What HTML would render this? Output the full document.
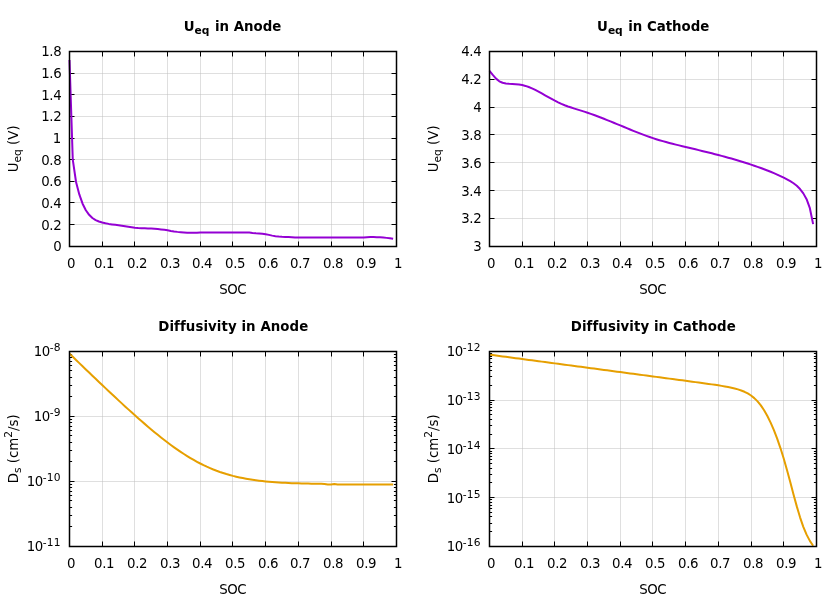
<!DOCTYPE html>
<html><head><meta charset="utf-8"><title>plots</title>
<style>html,body{margin:0;padding:0;background:#fff}svg{display:block;will-change:transform}text{font-family:"DejaVu Sans","Liberation Sans",sans-serif;fill:#000}</style>
</head><body>
<svg width="840" height="600" viewBox="0 0 840 600">
<rect width="840" height="600" fill="#fff"/>
<path d="M102.50 51.50V246.50M134.50 51.50V246.50M167.50 51.50V246.50M200.50 51.50V246.50M232.50 51.50V246.50M265.50 51.50V246.50M298.50 51.50V246.50M331.50 51.50V246.50M363.50 51.50V246.50" stroke="#c0c0c0" stroke-opacity="0.5" stroke-width="1" fill="none"/>
<path d="M69.50 224.50H396.50M69.50 202.50H396.50M69.50 181.50H396.50M69.50 159.50H396.50M69.50 138.50H396.50M69.50 116.50H396.50M69.50 94.50H396.50M69.50 73.50H396.50" stroke="#c0c0c0" stroke-opacity="0.5" stroke-width="1" fill="none"/>
<path d="M102.50 246.50v-5.0M102.50 51.50v5.0M134.50 246.50v-5.0M134.50 51.50v5.0M167.50 246.50v-5.0M167.50 51.50v5.0M200.50 246.50v-5.0M200.50 51.50v5.0M232.50 246.50v-5.0M232.50 51.50v5.0M265.50 246.50v-5.0M265.50 51.50v5.0M298.50 246.50v-5.0M298.50 51.50v5.0M331.50 246.50v-5.0M331.50 51.50v5.0M363.50 246.50v-5.0M363.50 51.50v5.0M69.50 224.50h5.0M396.50 224.50h-5.0M69.50 202.50h5.0M396.50 202.50h-5.0M69.50 181.50h5.0M396.50 181.50h-5.0M69.50 159.50h5.0M396.50 159.50h-5.0M69.50 138.50h5.0M396.50 138.50h-5.0M69.50 116.50h5.0M396.50 116.50h-5.0M69.50 94.50h5.0M396.50 94.50h-5.0M69.50 73.50h5.0M396.50 73.50h-5.0" stroke="#000" stroke-width="1.0" fill="none"/>
<path d="M69.50 60.00 L72.77 159.60 L76.04 181.99 L79.31 194.41 L82.58 203.68 L85.84 210.24 L89.11 214.84 L92.38 218.00 L95.65 220.11 L98.92 221.54 L102.19 222.57 L105.46 223.29 L108.73 223.89 L112.00 224.41 L115.27 224.86 L118.53 225.27 L121.80 225.77 L125.07 226.26 L128.34 226.76 L131.61 227.23 L134.88 227.64 L138.15 227.97 L141.42 228.16 L144.69 228.25 L147.96 228.39 L151.22 228.57 L154.49 228.81 L157.76 229.09 L161.03 229.44 L164.30 229.80 L167.57 230.24 L170.84 230.92 L174.11 231.45 L177.38 231.88 L180.65 232.21 L183.92 232.50 L187.18 232.73 L190.45 232.84 L193.72 232.87 L196.99 232.86 L200.26 232.50 L203.53 232.50 L206.80 232.50 L210.07 232.50 L213.34 232.50 L216.60 232.50 L219.87 232.50 L223.14 232.50 L226.41 232.50 L229.68 232.50 L232.95 232.50 L236.22 232.50 L239.49 232.50 L242.76 232.50 L246.03 232.50 L249.29 232.50 L252.56 232.97 L255.83 233.29 L259.10 233.53 L262.37 233.82 L265.64 234.21 L268.91 234.88 L272.18 235.63 L275.45 236.16 L278.72 236.57 L281.99 236.85 L285.25 236.96 L288.52 237.03 L291.79 237.16 L295.06 237.50 L298.33 237.50 L301.60 237.50 L304.87 237.50 L308.14 237.50 L311.41 237.50 L314.68 237.50 L317.94 237.50 L321.21 237.50 L324.48 237.50 L327.75 237.50 L331.02 237.50 L334.29 237.50 L337.56 237.50 L340.83 237.50 L344.10 237.50 L347.36 237.50 L350.63 237.50 L353.90 237.50 L357.17 237.50 L360.44 237.50 L363.71 237.50 L366.98 237.23 L370.25 237.10 L373.52 237.10 L376.79 237.16 L380.05 237.29 L383.32 237.51 L386.59 237.87 L389.86 238.28 L393.13 238.79" stroke="#9400d3" stroke-width="2.0" fill="none" stroke-linejoin="round" stroke-linecap="butt"/>
<rect x="69.50" y="51.50" width="327.00" height="195.00" stroke="#000" stroke-width="1.5" fill="none"/>
<g font-size="13.33" letter-spacing="-0.4"><text x="67.10" y="268">0</text><text x="94.10" y="268">0.1</text><text x="127.10" y="268">0.2</text><text x="160.10" y="268">0.3</text><text x="192.10" y="268">0.4</text><text x="225.10" y="268">0.5</text><text x="258.10" y="268">0.6</text><text x="290.10" y="268">0.7</text><text x="323.10" y="268">0.8</text><text x="356.10" y="268">0.9</text><text x="394.10" y="268">1</text><text x="61.25" y="251" text-anchor="end">0</text><text x="61.25" y="230" text-anchor="end">0.2</text><text x="61.25" y="208" text-anchor="end">0.4</text><text x="61.25" y="186" text-anchor="end">0.6</text><text x="61.25" y="165" text-anchor="end">0.8</text><text x="60.75" y="143" text-anchor="end">1</text><text x="61.25" y="121" text-anchor="end">1.2</text><text x="61.25" y="100" text-anchor="end">1.4</text><text x="61.25" y="78" text-anchor="end">1.6</text><text x="61.25" y="56" text-anchor="end">1.8</text></g>
<text x="232.70" y="294.20" text-anchor="middle" letter-spacing="-0.4" font-size="13.33">SOC</text>
<text x="232.50" y="31" text-anchor="middle" letter-spacing="0" font-size="13.33" font-weight="bold">U<tspan font-size="10.66" dy="3">eq</tspan><tspan dy="-3" dx="0.9"> in Anode</tspan></text>
<text transform="translate(18.30 148.85) rotate(-90)" text-anchor="middle" font-size="13.33">U<tspan font-size="10.66" dy="3">eq</tspan><tspan dy="-3" dx="0"> (V)</tspan></text>
<path d="M522.50 51.50V246.50M554.50 51.50V246.50M587.50 51.50V246.50M620.50 51.50V246.50M652.50 51.50V246.50M685.50 51.50V246.50M718.50 51.50V246.50M751.50 51.50V246.50M783.50 51.50V246.50" stroke="#c0c0c0" stroke-opacity="0.5" stroke-width="1" fill="none"/>
<path d="M489.50 218.50H816.50M489.50 190.50H816.50M489.50 162.50H816.50M489.50 134.50H816.50M489.50 107.50H816.50M489.50 79.50H816.50" stroke="#c0c0c0" stroke-opacity="0.5" stroke-width="1" fill="none"/>
<path d="M522.50 246.50v-5.0M522.50 51.50v5.0M554.50 246.50v-5.0M554.50 51.50v5.0M587.50 246.50v-5.0M587.50 51.50v5.0M620.50 246.50v-5.0M620.50 51.50v5.0M652.50 246.50v-5.0M652.50 51.50v5.0M685.50 246.50v-5.0M685.50 51.50v5.0M718.50 246.50v-5.0M718.50 51.50v5.0M751.50 246.50v-5.0M751.50 51.50v5.0M783.50 246.50v-5.0M783.50 51.50v5.0M489.50 218.50h5.0M816.50 218.50h-5.0M489.50 190.50h5.0M816.50 190.50h-5.0M489.50 162.50h5.0M816.50 162.50h-5.0M489.50 134.50h5.0M816.50 134.50h-5.0M489.50 107.50h5.0M816.50 107.50h-5.0M489.50 79.50h5.0M816.50 79.50h-5.0" stroke="#000" stroke-width="1.0" fill="none"/>
<path d="M489.50 70.79 L492.77 74.90 L496.04 78.61 L499.31 81.29 L502.58 82.77 L505.85 83.47 L509.11 83.85 L512.38 84.08 L515.65 84.28 L518.92 84.58 L522.19 85.09 L525.46 85.91 L528.73 87.02 L532.00 88.37 L535.27 89.92 L538.53 91.62 L541.80 93.42 L545.07 95.26 L548.34 97.12 L551.61 98.93 L554.88 100.67 L558.15 102.31 L561.42 103.84 L564.69 105.23 L567.96 106.47 L571.23 107.57 L574.49 108.60 L577.76 109.59 L581.03 110.59 L584.30 111.63 L587.57 112.72 L590.84 113.85 L594.11 115.03 L597.38 116.24 L600.65 117.49 L603.91 118.76 L607.18 120.06 L610.45 121.38 L613.72 122.72 L616.99 124.06 L620.26 125.42 L623.53 126.78 L626.80 128.14 L630.07 129.49 L633.34 130.83 L636.61 132.14 L639.87 133.43 L643.14 134.68 L646.41 135.89 L649.68 137.05 L652.95 138.16 L656.22 139.21 L659.49 140.21 L662.76 141.16 L666.03 142.07 L669.29 142.94 L672.56 143.78 L675.83 144.60 L679.10 145.40 L682.37 146.19 L685.64 146.97 L688.91 147.75 L692.18 148.53 L695.45 149.32 L698.72 150.11 L701.99 150.91 L705.25 151.71 L708.52 152.52 L711.79 153.34 L715.06 154.18 L718.33 155.03 L721.60 155.89 L724.87 156.77 L728.14 157.67 L731.41 158.58 L734.67 159.52 L737.94 160.48 L741.21 161.47 L744.48 162.48 L747.75 163.51 L751.02 164.58 L754.29 165.69 L757.56 166.83 L760.83 168.00 L764.10 169.22 L767.37 170.48 L770.63 171.79 L773.90 173.14 L777.17 174.57 L780.44 176.09 L783.71 177.71 L786.98 179.43 L790.25 181.22 L793.52 183.25 L796.79 185.78 L800.05 189.07 L803.32 193.38 L806.59 199.15 L809.86 208.21 L813.13 224.10" stroke="#9400d3" stroke-width="2.0" fill="none" stroke-linejoin="round" stroke-linecap="butt"/>
<rect x="489.50" y="51.50" width="327.00" height="195.00" stroke="#000" stroke-width="1.5" fill="none"/>
<g font-size="13.33" letter-spacing="-0.4"><text x="487.10" y="268">0</text><text x="514.10" y="268">0.1</text><text x="547.10" y="268">0.2</text><text x="580.10" y="268">0.3</text><text x="612.10" y="268">0.4</text><text x="645.10" y="268">0.5</text><text x="678.10" y="268">0.6</text><text x="710.10" y="268">0.7</text><text x="743.10" y="268">0.8</text><text x="776.10" y="268">0.9</text><text x="814.10" y="268">1</text><text x="481.25" y="251" text-anchor="end">3</text><text x="481.25" y="223" text-anchor="end">3.2</text><text x="481.25" y="196" text-anchor="end">3.4</text><text x="481.25" y="168" text-anchor="end">3.6</text><text x="481.25" y="140" text-anchor="end">3.8</text><text x="481.25" y="112" text-anchor="end">4</text><text x="481.25" y="84" text-anchor="end">4.2</text><text x="481.25" y="56" text-anchor="end">4.4</text></g>
<text x="652.70" y="294.20" text-anchor="middle" letter-spacing="-0.4" font-size="13.33">SOC</text>
<text x="653.20" y="31" text-anchor="middle" letter-spacing="0" font-size="13.33" font-weight="bold">U<tspan font-size="10.66" dy="3">eq</tspan><tspan dy="-3" dx="0.9"> in Cathode</tspan></text>
<text transform="translate(438.30 148.85) rotate(-90)" text-anchor="middle" font-size="13.33">U<tspan font-size="10.66" dy="3">eq</tspan><tspan dy="-3" dx="0"> (V)</tspan></text>
<path d="M102.50 351.50V546.50M134.50 351.50V546.50M167.50 351.50V546.50M200.50 351.50V546.50M232.50 351.50V546.50M265.50 351.50V546.50M298.50 351.50V546.50M331.50 351.50V546.50M363.50 351.50V546.50" stroke="#c0c0c0" stroke-opacity="0.5" stroke-width="1" fill="none"/>
<path d="M69.50 481.50H396.50M69.50 416.50H396.50" stroke="#c0c0c0" stroke-opacity="0.5" stroke-width="1" fill="none"/>
<path d="M102.50 546.50v-5.0M102.50 351.50v5.0M134.50 546.50v-5.0M134.50 351.50v5.0M167.50 546.50v-5.0M167.50 351.50v5.0M200.50 546.50v-5.0M200.50 351.50v5.0M232.50 546.50v-5.0M232.50 351.50v5.0M265.50 546.50v-5.0M265.50 351.50v5.0M298.50 546.50v-5.0M298.50 351.50v5.0M331.50 546.50v-5.0M331.50 351.50v5.0M363.50 546.50v-5.0M363.50 351.50v5.0M69.50 526.50h2.6M396.50 526.50h-2.6M69.50 515.50h2.6M396.50 515.50h-2.6M69.50 507.50h2.6M396.50 507.50h-2.6M69.50 500.50h2.6M396.50 500.50h-2.6M69.50 495.50h2.6M396.50 495.50h-2.6M69.50 491.50h2.6M396.50 491.50h-2.6M69.50 487.50h2.6M396.50 487.50h-2.6M69.50 484.50h2.6M396.50 484.50h-2.6M69.50 481.50h5.0M396.50 481.50h-5.0M69.50 461.50h2.6M396.50 461.50h-2.6M69.50 450.50h2.6M396.50 450.50h-2.6M69.50 442.50h2.6M396.50 442.50h-2.6M69.50 435.50h2.6M396.50 435.50h-2.6M69.50 430.50h2.6M396.50 430.50h-2.6M69.50 426.50h2.6M396.50 426.50h-2.6M69.50 422.50h2.6M396.50 422.50h-2.6M69.50 419.50h2.6M396.50 419.50h-2.6M69.50 416.50h5.0M396.50 416.50h-5.0M69.50 396.50h2.6M396.50 396.50h-2.6M69.50 385.50h2.6M396.50 385.50h-2.6M69.50 377.50h2.6M396.50 377.50h-2.6M69.50 370.50h2.6M396.50 370.50h-2.6M69.50 365.50h2.6M396.50 365.50h-2.6M69.50 361.50h2.6M396.50 361.50h-2.6M69.50 357.50h2.6M396.50 357.50h-2.6M69.50 354.50h2.6M396.50 354.50h-2.6" stroke="#000" stroke-width="1.0" fill="none"/>
<path d="M69.50 353.65 L72.77 356.81 L76.04 359.96 L79.31 363.12 L82.58 366.27 L85.84 369.41 L89.11 372.55 L92.38 375.68 L95.65 378.80 L98.92 381.91 L102.19 385.02 L105.46 388.11 L108.73 391.20 L112.00 394.27 L115.27 397.32 L118.53 400.36 L121.80 403.39 L125.07 406.39 L128.34 409.37 L131.61 412.33 L134.88 415.27 L138.15 418.17 L141.42 421.05 L144.69 423.88 L147.96 426.69 L151.22 429.45 L154.49 432.17 L157.76 434.84 L161.03 437.45 L164.30 440.02 L167.57 442.52 L170.84 444.96 L174.11 447.33 L177.38 449.63 L180.65 451.86 L183.92 454.01 L187.18 456.08 L190.45 458.06 L193.72 459.96 L196.99 461.77 L200.26 463.49 L203.53 465.12 L206.80 466.66 L210.07 468.11 L213.34 469.48 L216.60 470.75 L219.87 471.94 L223.14 473.04 L226.41 474.07 L229.68 475.01 L232.95 475.89 L236.22 476.69 L239.49 477.43 L242.76 478.10 L246.03 478.72 L249.29 479.28 L252.56 479.79 L255.83 480.26 L259.10 480.68 L262.37 481.06 L265.64 481.41 L268.91 481.72 L272.18 482.00 L275.45 482.26 L278.72 482.48 L281.99 482.69 L285.25 482.87 L288.52 483.04 L291.79 483.19 L295.06 483.32 L298.33 483.34 L301.60 483.43 L304.87 483.51 L308.14 483.57 L311.41 483.63 L314.68 483.67 L317.94 483.72 L321.21 483.75 L324.48 483.90 L327.75 484.50 L331.02 484.50 L334.29 483.90 L337.56 484.50 L340.83 484.50 L344.10 484.50 L347.36 484.50 L350.63 484.50 L353.90 484.50 L357.17 484.50 L360.44 484.50 L363.71 484.50 L366.98 484.50 L370.25 484.50 L373.52 484.50 L376.79 484.50 L380.05 484.50 L383.32 484.50 L386.59 484.50 L389.86 484.50 L393.13 484.50" stroke="#e69f00" stroke-width="2.0" fill="none" stroke-linejoin="round" stroke-linecap="butt"/>
<rect x="69.50" y="351.50" width="327.00" height="195.00" stroke="#000" stroke-width="1.5" fill="none"/>
<g font-size="13.33" letter-spacing="-0.4"><text x="67.10" y="568">0</text><text x="94.10" y="568">0.1</text><text x="127.10" y="568">0.2</text><text x="160.10" y="568">0.3</text><text x="192.10" y="568">0.4</text><text x="225.10" y="568">0.5</text><text x="258.10" y="568">0.6</text><text x="290.10" y="568">0.7</text><text x="323.10" y="568">0.8</text><text x="356.10" y="568">0.9</text><text x="394.10" y="568">1</text><text x="60.75" y="551" text-anchor="end" letter-spacing="-0.5">10<tspan font-size="10.66" dy="-5" letter-spacing="0.2">-11</tspan></text><text x="60.75" y="486" text-anchor="end" letter-spacing="-0.5">10<tspan font-size="10.66" dy="-5" letter-spacing="0.2">-10</tspan></text><text x="60.75" y="421" text-anchor="end" letter-spacing="-0.5">10<tspan font-size="10.66" dy="-5" letter-spacing="0.2">-9</tspan></text><text x="60.75" y="356" text-anchor="end" letter-spacing="-0.5">10<tspan font-size="10.66" dy="-5" letter-spacing="0.2">-8</tspan></text></g>
<text x="232.70" y="594.20" text-anchor="middle" letter-spacing="-0.4" font-size="13.33">SOC</text>
<text x="233.30" y="331" text-anchor="middle" letter-spacing="0.085" font-size="13.33" font-weight="bold">Diffusivity in Anode</text>
<text transform="translate(18.30 448.85) rotate(-90)" text-anchor="middle" font-size="13.33">D<tspan font-size="10.66" dy="3">s</tspan><tspan dy="-3" dx="0"> (cm</tspan><tspan font-size="10.66" dy="-6.6">2</tspan><tspan dy="6.6">/s)</tspan></text>
<path d="M522.50 351.50V546.50M554.50 351.50V546.50M587.50 351.50V546.50M620.50 351.50V546.50M652.50 351.50V546.50M685.50 351.50V546.50M718.50 351.50V546.50M751.50 351.50V546.50M783.50 351.50V546.50" stroke="#c0c0c0" stroke-opacity="0.5" stroke-width="1" fill="none"/>
<path d="M489.50 497.50H816.50M489.50 448.50H816.50M489.50 400.50H816.50" stroke="#c0c0c0" stroke-opacity="0.5" stroke-width="1" fill="none"/>
<path d="M522.50 546.50v-5.0M522.50 351.50v5.0M554.50 546.50v-5.0M554.50 351.50v5.0M587.50 546.50v-5.0M587.50 351.50v5.0M620.50 546.50v-5.0M620.50 351.50v5.0M652.50 546.50v-5.0M652.50 351.50v5.0M685.50 546.50v-5.0M685.50 351.50v5.0M718.50 546.50v-5.0M718.50 351.50v5.0M751.50 546.50v-5.0M751.50 351.50v5.0M783.50 546.50v-5.0M783.50 351.50v5.0M489.50 531.50h2.6M816.50 531.50h-2.6M489.50 523.50h2.6M816.50 523.50h-2.6M489.50 516.50h2.6M816.50 516.50h-2.6M489.50 512.50h2.6M816.50 512.50h-2.6M489.50 508.50h2.6M816.50 508.50h-2.6M489.50 505.50h2.6M816.50 505.50h-2.6M489.50 502.50h2.6M816.50 502.50h-2.6M489.50 499.50h2.6M816.50 499.50h-2.6M489.50 497.50h5.0M816.50 497.50h-5.0M489.50 482.50h2.6M816.50 482.50h-2.6M489.50 474.50h2.6M816.50 474.50h-2.6M489.50 468.50h2.6M816.50 468.50h-2.6M489.50 463.50h2.6M816.50 463.50h-2.6M489.50 459.50h2.6M816.50 459.50h-2.6M489.50 456.50h2.6M816.50 456.50h-2.6M489.50 453.50h2.6M816.50 453.50h-2.6M489.50 451.50h2.6M816.50 451.50h-2.6M489.50 448.50h5.0M816.50 448.50h-5.0M489.50 434.50h2.6M816.50 434.50h-2.6M489.50 425.50h2.6M816.50 425.50h-2.6M489.50 419.50h2.6M816.50 419.50h-2.6M489.50 414.50h2.6M816.50 414.50h-2.6M489.50 410.50h2.6M816.50 410.50h-2.6M489.50 407.50h2.6M816.50 407.50h-2.6M489.50 404.50h2.6M816.50 404.50h-2.6M489.50 402.50h2.6M816.50 402.50h-2.6M489.50 400.50h5.0M816.50 400.50h-5.0M489.50 385.50h2.6M816.50 385.50h-2.6M489.50 376.50h2.6M816.50 376.50h-2.6M489.50 370.50h2.6M816.50 370.50h-2.6M489.50 366.50h2.6M816.50 366.50h-2.6M489.50 362.50h2.6M816.50 362.50h-2.6M489.50 358.50h2.6M816.50 358.50h-2.6M489.50 356.50h2.6M816.50 356.50h-2.6M489.50 353.50h2.6M816.50 353.50h-2.6" stroke="#000" stroke-width="1.0" fill="none"/>
<path d="M489.50 354.67 L492.77 355.10 L496.04 355.54 L499.31 355.97 L502.58 356.41 L505.85 356.84 L509.11 357.28 L512.38 357.71 L515.65 358.15 L518.92 358.58 L522.19 359.02 L525.46 359.46 L528.73 359.89 L532.00 360.33 L535.27 360.76 L538.53 361.20 L541.80 361.63 L545.07 362.07 L548.34 362.50 L551.61 362.94 L554.88 363.37 L558.15 363.81 L561.42 364.25 L564.69 364.68 L567.96 365.12 L571.23 365.55 L574.49 365.99 L577.76 366.42 L581.03 366.86 L584.30 367.29 L587.57 367.73 L590.84 368.16 L594.11 368.60 L597.38 369.04 L600.65 369.47 L603.91 369.91 L607.18 370.34 L610.45 370.78 L613.72 371.21 L616.99 371.65 L620.26 372.08 L623.53 372.52 L626.80 372.96 L630.07 373.39 L633.34 373.83 L636.61 374.26 L639.87 374.70 L643.14 375.13 L646.41 375.57 L649.68 376.00 L652.95 376.44 L656.22 376.87 L659.49 377.31 L662.76 377.75 L666.03 378.18 L669.29 378.62 L672.56 379.05 L675.83 379.49 L679.10 379.93 L682.37 380.36 L685.64 380.80 L688.91 381.24 L692.18 381.68 L695.45 382.12 L698.72 382.56 L701.99 383.01 L705.25 383.46 L708.52 383.91 L711.79 384.38 L715.06 384.86 L718.33 385.35 L721.60 385.87 L724.87 386.43 L728.14 387.03 L731.41 387.70 L734.67 388.47 L737.94 389.37 L741.21 390.45 L744.48 391.78 L747.75 393.43 L751.02 395.51 L754.29 398.12 L757.56 401.39 L760.83 405.42 L764.10 410.29 L767.37 416.04 L770.63 422.67 L773.90 430.19 L777.17 438.64 L780.44 448.07 L783.71 458.52 L786.98 469.94 L790.25 482.07 L793.52 494.43 L796.79 506.38 L800.05 517.32 L803.32 526.80 L806.59 534.65 L809.86 540.90 L813.13 545.74" stroke="#e69f00" stroke-width="2.0" fill="none" stroke-linejoin="round" stroke-linecap="butt"/>
<rect x="489.50" y="351.50" width="327.00" height="195.00" stroke="#000" stroke-width="1.5" fill="none"/>
<g font-size="13.33" letter-spacing="-0.4"><text x="487.10" y="568">0</text><text x="514.10" y="568">0.1</text><text x="547.10" y="568">0.2</text><text x="580.10" y="568">0.3</text><text x="612.10" y="568">0.4</text><text x="645.10" y="568">0.5</text><text x="678.10" y="568">0.6</text><text x="710.10" y="568">0.7</text><text x="743.10" y="568">0.8</text><text x="776.10" y="568">0.9</text><text x="814.10" y="568">1</text><text x="480.75" y="551" text-anchor="end" letter-spacing="-0.5">10<tspan font-size="10.66" dy="-5" letter-spacing="0.2">-16</tspan></text><text x="480.75" y="503" text-anchor="end" letter-spacing="-0.5">10<tspan font-size="10.66" dy="-5" letter-spacing="0.2">-15</tspan></text><text x="480.75" y="454" text-anchor="end" letter-spacing="-0.5">10<tspan font-size="10.66" dy="-5" letter-spacing="0.2">-14</tspan></text><text x="480.75" y="405" text-anchor="end" letter-spacing="-0.5">10<tspan font-size="10.66" dy="-5" letter-spacing="0.2">-13</tspan></text><text x="480.75" y="356" text-anchor="end" letter-spacing="-0.5">10<tspan font-size="10.66" dy="-5" letter-spacing="0.2">-12</tspan></text></g>
<text x="652.70" y="594.20" text-anchor="middle" letter-spacing="-0.4" font-size="13.33">SOC</text>
<text x="653.30" y="331" text-anchor="middle" letter-spacing="0.085" font-size="13.33" font-weight="bold">Diffusivity in Cathode</text>
<text transform="translate(438.30 448.85) rotate(-90)" text-anchor="middle" font-size="13.33">D<tspan font-size="10.66" dy="3">s</tspan><tspan dy="-3" dx="0"> (cm</tspan><tspan font-size="10.66" dy="-6.6">2</tspan><tspan dy="6.6">/s)</tspan></text>
</svg>
</body></html>
